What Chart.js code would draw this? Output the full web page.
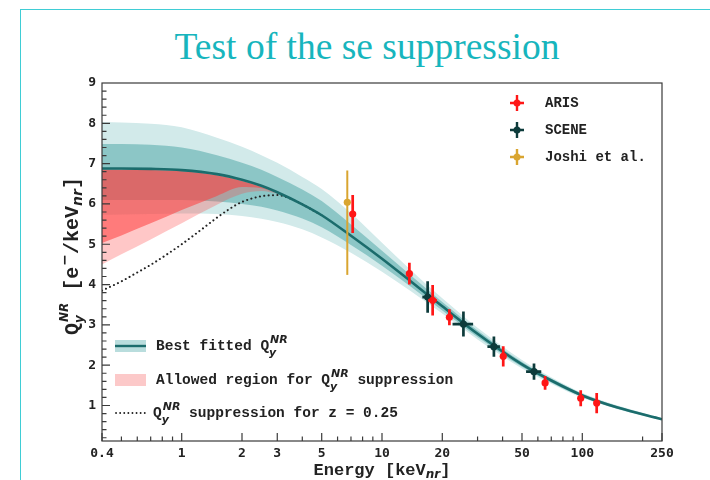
<!DOCTYPE html>
<html lang="en">
<head>
<meta charset="UTF-8">
<title>Test of the se suppression</title>
<script src="https://cdn.jsdelivr.net/npm/chart.js"></script>
<style>
  html, body { margin: 0; padding: 0; background: #fff; }
  body { width: 710px; height: 480px; position: relative; overflow: hidden; }
  /* slide frame */
  .slide { position: absolute; left: 20px; top: 9px; width: 720px; height: 500px;
           border-left: 1.5px solid #3fcdd5; border-top: 1.5px solid #3fcdd5; }
  h1 { position: absolute; left: 0; top: 25px; width: 734px; margin: 0; text-align: center;
       font: normal 37.5px "Liberation Serif", serif; color: #17b5bd; }
  .chart-container { position: absolute; left: 0; top: 0; width: 710px; height: 480px; }
</style>
</head>
<body>
<div class="slide"></div>
<h1>Test of the se suppression</h1>
<div class="chart-container"><canvas id="chart"></canvas></div>

<script>
  // ---- data ----
  const xTicks = [0.4, 1, 2, 3, 5, 10, 20, 50, 100, 250];
  const xMinor = [0.5, 0.6, 0.7, 0.8, 0.9, 4, 6, 7, 8, 9, 30, 40, 60, 70, 80, 90, 200];
  const yTicks = [1, 2, 3, 4, 5, 6, 7, 8, 9];

  // best fit Qy and its two bands
  const energyGrid = [0.4, 0.5, 0.7, 1, 1.5, 2, 2.5, 3, 4, 5, 7, 10, 14, 20, 30, 50, 70, 100, 150, 250];
  const fitBest  = [6.88, 6.88, 6.87, 6.84, 6.74, 6.60, 6.45, 6.29, 5.99, 5.72, 5.21, 4.64, 4.07, 3.46, 2.78, 2.02, 1.62, 1.25, 0.95, 0.66];
  const innerUp  = [7.49, 7.49, 7.47, 7.40, 7.21, 7.02, 6.85, 6.67, 6.36, 6.07, 5.49, 4.84, 4.22, 3.57, 2.86, 2.08, 1.67, 1.29, 0.98, 0.68];
  const innerLo  = [6.10, 6.10, 6.10, 6.10, 6.06, 6.00, 5.93, 5.84, 5.64, 5.42, 4.98, 4.47, 3.94, 3.36, 2.70, 1.96, 1.57, 1.21, 0.92, 0.64];
  const outerUp  = [8.03, 8.02, 7.99, 7.90, 7.64, 7.42, 7.21, 7.02, 6.67, 6.37, 5.77, 5.04, 4.35, 3.66, 2.93, 2.13, 1.70, 1.31, 1.00, 0.69];
  const outerLo  = [5.73, 5.74, 5.75, 5.76, 5.75, 5.70, 5.63, 5.55, 5.37, 5.17, 4.79, 4.32, 3.83, 3.28, 2.64, 1.92, 1.54, 1.19, 0.91, 0.63];

  // allowed suppression region
  const redGrid  = [0.4, 0.5, 0.7, 1, 1.5, 2, 2.5, 3, 3.3];
  const redTop   = [6.85, 6.85, 6.84, 6.81, 6.71, 6.57, 6.42, 6.26, 6.18];
  const redInLo  = [5.03, 5.22, 5.52, 5.85, 6.20, 6.42, 6.39, 6.26, 6.18];
  const redOutLo = [4.50, 4.75, 5.12, 5.52, 5.98, 6.25, 6.32, 6.25, 6.18];

  // suppression for z = 0.25
  const dotGrid = [0.4, 0.5, 0.6, 0.7, 0.85, 1, 1.25, 1.5, 1.75, 2, 2.5, 3, 3.5, 4, 5];
  const dotQ    = [3.85, 4.08, 4.30, 4.49, 4.76, 5.00, 5.36, 5.66, 5.89, 6.05, 6.19, 6.22, 6.13, 5.99, 5.72];

  // measurements
  const arisE    = [7.14, 13.7, 17.9, 21.7, 40.3, 65.2, 98.2, 118];
  const arisQ    = [5.75, 4.27, 3.61, 3.19, 2.22, 1.56, 1.18, 1.06];
  const arisErr  = [0.47, 0.27, 0.38, 0.2, 0.25, 0.17, 0.2, 0.25];
  const arisXErr = [0.15, 0.3, 0.9, 0.4, 0.8, 1.2, 1.8, 2.2];

  const sceneE    = [16.9, 25.5, 36.2, 57.4];
  const sceneQ    = [3.69, 3.02, 2.46, 1.84];
  const sceneErr  = [0.39, 0.31, 0.25, 0.2];
  const sceneXErr = [1.0, 3.0, 2.6, 5.0];

  const joshiE     = [6.71];
  const joshiQ     = [6.04];
  const joshiPlus  = [0.79];
  const joshiMinus = [1.8];

  const C_ARIS = '#ff1616', C_SCENE = '#0d3b3b', C_JOSHI = '#d9a530';
  const C_LINE = '#1b6c6c';
  const MONO = '"Liberation Mono", monospace';
  const SANS = '"DejaVu Sans", sans-serif';

  const pts = (xs, ys) => xs.map((x, i) => ({ x: x, y: ys[i] }));

  function curve(data, extra) {
    return Object.assign({
      data: data, showLine: true, pointRadius: 0, borderWidth: 0,
      cubicInterpolationMode: 'monotone', fill: false
    }, extra);
  }

  // error bars drawn through the scales, just before the points
  const errorBars = {
    id: 'errorBars',
    beforeDatasetDraw(chart, args) {
      const ds = chart.data.datasets[args.index];
      if (!ds.errPlus) return;
      const xs = chart.scales.x, ys = chart.scales.y, ctx = chart.ctx;
      ctx.save();
      ctx.strokeStyle = ds.backgroundColor;
      ctx.lineWidth = ds.errWidth || 2.7;
      ds.data.forEach((p, i) => {
        const px = xs.getPixelForValue(p.x), py = ys.getPixelForValue(p.y);
        ctx.beginPath();
        ctx.moveTo(px, ys.getPixelForValue(p.y - ds.errMinus[i]));
        ctx.lineTo(px, ys.getPixelForValue(p.y + ds.errPlus[i]));
        if (ds.xErr && ds.xErr[i]) {
          ctx.moveTo(xs.getPixelForValue(p.x - ds.xErr[i]), py);
          ctx.lineTo(xs.getPixelForValue(p.x + ds.xErr[i]), py);
        }
        ctx.stroke();
      });
      ctx.restore();
    }
  };

  // text with stacked sub/superscripts
  function richWidth(ctx, parts) {
    let w = 0;
    parts.forEach(p => {
      ctx.font = p.f;
      if (p.sup !== undefined) {
        w += Math.max(ctx.measureText(p.sup).width, ctx.measureText(p.sub || '').width) + 1;
      } else {
        w += ctx.measureText(p.t).width;
      }
    });
    return w;
  }
  function drawRich(ctx, parts, x, y) {
    let cx = x;
    ctx.textBaseline = 'middle';
    ctx.textAlign = 'left';
    parts.forEach(p => {
      ctx.font = p.f;
      if (p.sup !== undefined) {
        ctx.fillText(p.sup, cx + 1, y - (p.up || 6));
        if (p.sub) ctx.fillText(p.sub, cx, y + (p.down || 5));
        cx += Math.max(ctx.measureText(p.sup).width, ctx.measureText(p.sub || '').width) + 1;
      } else {
        ctx.fillText(p.t, cx, y + (p.dy || 0));
        cx += ctx.measureText(p.t).width;
      }
    });
  }

  const decorations = {
    id: 'decorations',
    afterDraw(chart) {
      const { ctx, chartArea: a } = chart;
      const xs = chart.scales.x, ys = chart.scales.y;
      ctx.save();
      // frame
      ctx.strokeStyle = '#3a3a3a';
      ctx.lineWidth = 1.2;
      ctx.strokeRect(a.left, a.top, a.right - a.left, a.bottom - a.top);
      // inward ticks
      ctx.beginPath();
      xTicks.forEach(v => { const px = xs.getPixelForValue(v); ctx.moveTo(px, a.bottom); ctx.lineTo(px, a.bottom - 8); });
      xMinor.forEach(v => { const px = xs.getPixelForValue(v); ctx.moveTo(px, a.bottom); ctx.lineTo(px, a.bottom - 4.5); });
      for (let v = 0.2; v < 9; v += 0.2) {
        const py = ys.getPixelForValue(v);
        const major = Math.abs(v - Math.round(v)) < 0.01;
        ctx.moveTo(a.left, py); ctx.lineTo(a.left + (major ? 8 : 4.5), py);
      }
      ctx.stroke();

      ctx.fillStyle = '#222';
      const big = 'bold 17px ' + MONO;
      const subI = 'italic bold 12px ' + SANS;
      // x title
      const xt = [{ t: 'Energy [keV', f: big }, { t: 'nr', f: subI, dy: 4 }, { t: ']', f: big }];
      drawRich(ctx, xt, (a.left + a.right) / 2 - richWidth(ctx, xt) / 2, 471);
      // y title
      const yb = 'bold 20px ' + MONO, ys2 = 'italic bold 14px ' + SANS;
      const yt = [{ t: 'Q', f: yb }, { sup: 'NR', sub: 'y', f: 'italic bold 12px ' + SANS, up: 8, down: 7 },
                  { t: ' [e', f: yb }, { sup: '\u2212', f: 'bold 14px ' + SANS, up: 8 },
                  { t: '/keV', f: yb }, { t: 'nr', f: ys2, dy: 5 }, { t: ']', f: yb }];
      ctx.translate(73, 256);
      ctx.rotate(-Math.PI / 2);
      drawRich(ctx, yt, -richWidth(ctx, yt) / 2, 0);
      ctx.restore();

      // legend, top right
      ctx.save();
      const lx = a.right - 145, ly = a.top + 20;
      [['ARIS', C_ARIS, 7], ['SCENE', C_SCENE, 7], ['Joshi et al.', C_JOSHI, 7]].forEach((it, i) => {
        const y = ly + i * 27;
        ctx.strokeStyle = it[1]; ctx.fillStyle = it[1]; ctx.lineWidth = 2.4;
        ctx.beginPath();
        ctx.moveTo(lx, y - 8); ctx.lineTo(lx, y + 8);
        ctx.moveTo(lx - it[2], y); ctx.lineTo(lx + it[2], y);
        ctx.stroke();
        ctx.beginPath(); ctx.arc(lx, y, 3.5, 0, Math.PI * 2); ctx.fill();
        ctx.fillStyle = '#222';
        ctx.font = 'bold 14px ' + MONO;
        ctx.textBaseline = 'middle';
        ctx.fillText(it[0], lx + 28, y);
      });

      // legend, bottom left
      const bx = a.left + 13, bw = 31, tx = a.left + 54;
      const f = 'bold 14.5px ' + MONO, fi = 'italic bold 11px ' + SANS;
      const q = [{ t: 'Q', f: f }, { sup: 'NR', sub: 'y', f: fi, up: 6, down: 7 }];
      let y0 = 346;
      ctx.fillStyle = '#b9dddd';
      ctx.fillRect(bx, y0 - 6, bw, 12);
      ctx.strokeStyle = C_LINE; ctx.lineWidth = 2.4;
      ctx.beginPath(); ctx.moveTo(bx, y0); ctx.lineTo(bx + bw, y0); ctx.stroke();
      ctx.fillStyle = '#222';
      drawRich(ctx, [{ t: 'Best fitted ', f: f }].concat(q), tx, y0);

      y0 = 380;
      ctx.fillStyle = '#fcc9c9';
      ctx.fillRect(bx, y0 - 6, bw, 12);
      ctx.fillStyle = '#222';
      drawRich(ctx, [{ t: 'Allowed region for ', f: f }].concat(q, [{ t: ' suppression', f: f }]), tx, y0);

      y0 = 413;
      ctx.strokeStyle = '#222'; ctx.lineWidth = 1.8; ctx.lineCap = 'round';
      ctx.setLineDash([0.1, 4]);
      ctx.beginPath(); ctx.moveTo(bx + 1, y0); ctx.lineTo(bx + bw, y0); ctx.stroke();
      ctx.setLineDash([]);
      drawRich(ctx, q.concat([{ t: ' suppression for z = 0.25', f: f }]), tx - 3, y0);
      ctx.restore();
    }
  };

  const datasets = [
    { label: 'ARIS', data: pts(arisE, arisQ), order: 0, backgroundColor: C_ARIS,
      pointRadius: 3.6, pointBorderWidth: 0, errPlus: arisErr, errMinus: arisErr, xErr: arisXErr },
    { label: 'SCENE', data: pts(sceneE, sceneQ), order: 1, backgroundColor: C_SCENE,
      pointRadius: 3.6, pointBorderWidth: 0, errPlus: sceneErr, errMinus: sceneErr, xErr: sceneXErr },
    { label: 'Joshi et al.', data: pts(joshiE, joshiQ), order: 2, backgroundColor: C_JOSHI,
      pointRadius: 3.6, pointBorderWidth: 0, errPlus: joshiPlus, errMinus: joshiMinus, errWidth: 2 },
    curve(pts(energyGrid, fitBest), { label: 'fit', order: 3, borderColor: C_LINE, borderWidth: 2.6 }),
    curve(pts(dotGrid, dotQ), { label: 'z025', order: 4, borderColor: '#222', borderWidth: 2,
      borderDash: [0.1, 4.3], borderCapStyle: 'round' }),
    curve(pts(redGrid, redTop), { label: 'redIn', order: 6, fill: '+1', backgroundColor: 'rgba(255,60,60,0.55)' }),
    curve(pts(redGrid, redInLo), { label: 'redInLo', order: 7 }),
    curve(pts(redGrid, redTop), { label: 'redOut', order: 8, fill: '+1', backgroundColor: 'rgba(255,70,70,0.3)' }),
    curve(pts(redGrid, redOutLo), { label: 'redOutLo', order: 9 }),
    curve(pts(energyGrid, innerUp), { label: 'inner', order: 10, fill: '+1', backgroundColor: '#8cc6c6' }),
    curve(pts(energyGrid, innerLo), { label: 'innerLo', order: 11 }),
    curve(pts(energyGrid, outerUp), { label: 'outer', order: 12, fill: '+1', backgroundColor: '#d2eaea' }),
    curve(pts(energyGrid, outerLo), { label: 'outerLo', order: 13 })
  ];

  const tickFont = { family: '"DejaVu Sans Mono", monospace', size: 13, weight: 'bold' };

  new Chart(document.getElementById('chart'), {
    type: 'scatter',
    data: { datasets: datasets },
    options: {
      responsive: true,
      maintainAspectRatio: false,
      animation: false,
      layout: { padding: { left: 62, right: 48, top: 83, bottom: 9 } },
      plugins: { legend: { display: false }, tooltip: { enabled: false }, filler: { propagate: false } },
      scales: {
        x: {
          type: 'logarithmic', min: 0.4, max: 250,
          grid: { display: false, drawTicks: false }, border: { display: false },
          afterBuildTicks: s => { s.ticks = xTicks.map(v => ({ value: v })); },
          afterFit: s => { s.height = 30; },
          ticks: { font: tickFont, color: '#222', padding: 5, autoSkip: false, maxRotation: 0,
                   callback: v => String(v) }
        },
        y: {
          type: 'linear', min: 0.12, max: 9,
          grid: { display: false, drawTicks: false }, border: { display: false },
          afterBuildTicks: s => { s.ticks = yTicks.map(v => ({ value: v })); },
          afterFit: s => { s.width = 40; },
          ticks: { font: tickFont, color: '#222', padding: 6, callback: v => String(v) }
        }
      }
    },
    plugins: [errorBars, decorations]
  });
</script>
</body>
</html>
